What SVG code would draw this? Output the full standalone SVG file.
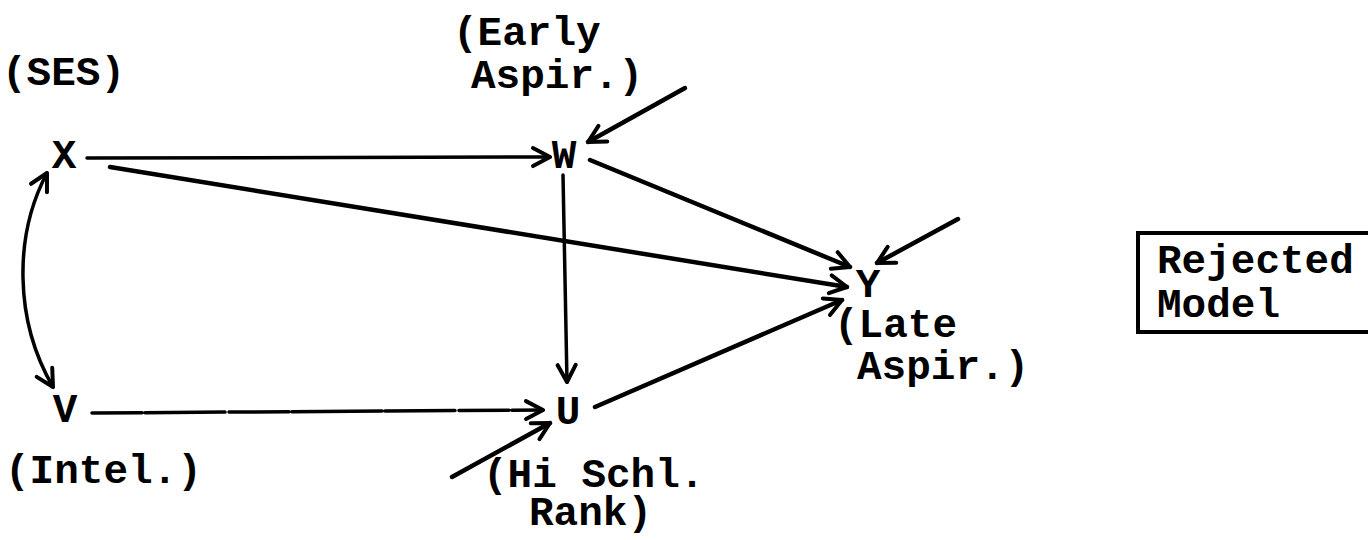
<svg xmlns="http://www.w3.org/2000/svg" width="1368" height="540" viewBox="0 0 1368 540">
<defs>
<style>
text{font-family:"Liberation Mono","Courier New",monospace;font-weight:bold;font-size:41px;fill:#000}
.c{text-anchor:middle}
.ln{stroke:#000;fill:none;stroke-linecap:round;stroke-width:4.5}
.thin{stroke-width:3.5}
</style>
<marker id="ah" markerUnits="userSpaceOnUse" viewBox="-20 -12 24 24" markerWidth="24" markerHeight="24" refX="0" refY="0" orient="auto-start-reverse">
<path d="M-17,-9 L0,0 L-17,9" fill="none" stroke="#000" stroke-width="4" stroke-linecap="round" stroke-linejoin="round"/>
</marker>
</defs>
<rect width="1368" height="540" fill="#fff"/>
<g id="connectors">
<path class="ln thin" d="M87,158 L550,157" marker-end="url(#ah)"/>
<path class="ln" d="M110,167 L847,287" marker-end="url(#ah)"/>
<path class="ln" d="M590,160 L850,267" marker-end="url(#ah)"/>
<path class="ln thin" d="M563,175 L567,382" marker-end="url(#ah)"/>
<path class="ln" d="M595,407 L842,300" marker-end="url(#ah)"/>
<path class="ln thin" d="M92,413 L543,410" stroke-dasharray="50,3,80,4,60,3,90,3,70,4" marker-end="url(#ah)"/>
<path class="ln" d="M685,88 L588,142" marker-end="url(#ah)"/>
<path class="ln" d="M958,219 L877,263" marker-end="url(#ah)"/>
<path class="ln" d="M452,477 L550,423" marker-end="url(#ah)"/>
<path class="ln thin" d="M47,173 C14,235 14,320 53,387" marker-start="url(#ah)" marker-end="url(#ah)"/>
</g>
<g id="node-X"><text class="c" x="64" y="168">X</text><text x="2" y="85">(SES)</text></g>
<g id="node-W"><text class="c" x="564" y="168">W</text><text x="453" y="45">(Early</text><text x="471" y="88">Aspir.)</text></g>
<g id="node-Y"><text class="c" x="868" y="297">Y</text><text x="834" y="337">(Late</text><text x="857" y="379">Aspir.)</text></g>
<g id="node-V"><text class="c" x="65" y="422">V</text><text x="5" y="483">(Intel.)</text></g>
<g id="node-U"><text class="c" x="568" y="424">U</text><text x="483" y="487">(Hi Schl.</text><text x="529" y="525">Rank)</text></g>
<g id="legend"><rect x="1138" y="233" width="250" height="99" fill="none" stroke="#000" stroke-width="4"/><text x="1157" y="273">Rejected</text><text x="1157" y="317">Model</text></g>
</svg>
